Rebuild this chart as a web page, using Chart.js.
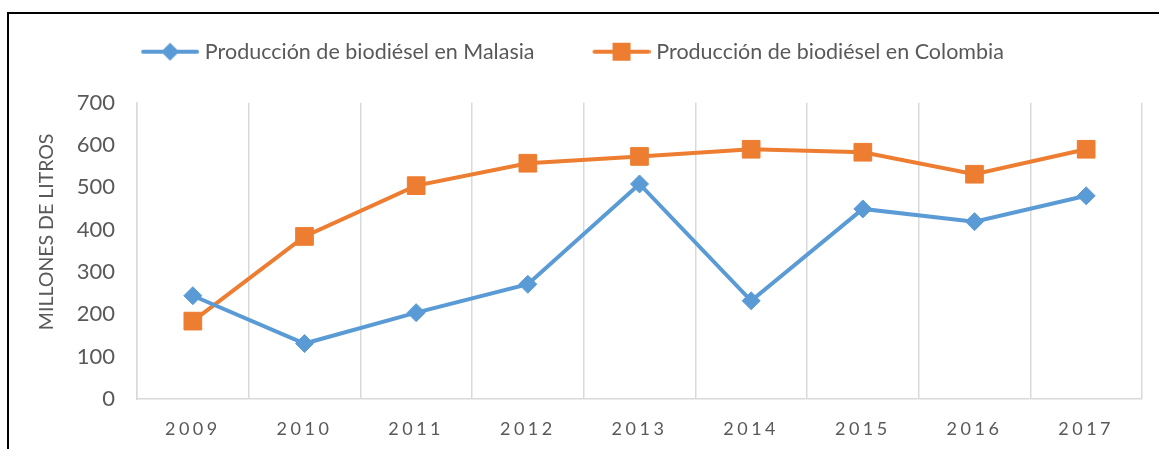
<!DOCTYPE html>
<html>
<head>
<meta charset="utf-8">
<script src="https://cdn.jsdelivr.net/npm/chart.js@4"></script>
<style>
  html, body { margin: 0; padding: 0; background: #fff; overflow: hidden; }
  #wrap { position: relative; width: 1159px; height: 449px; }
  #frame { position: absolute; left: 7px; top: 12px; width: 1300px; height: 600px;
           border-left: 2px solid #000; border-top: 2px solid #000; }
  canvas { position: absolute; left: 0; top: 0; }
</style>
</head>
<body>
<div id="wrap">
  <div id="frame"></div>
  <canvas id="my-line" width="1159" height="449"></canvas>
</div>
<script>
// ================= data =================
const years = ["2009","2010","2011","2012","2013","2014","2015","2016","2017"]
const malasia = [244,131,204,271,508,232,449,419,480]
const colombia = [184,384,504,557,573,590,583,531,590]
const yTicks = [0,100,200,300,400,500,600,700]

const blue = "#5B9BD5"
const orange = "#ED7D31"
const grey = "#595959"

// legend icon: line + marker
function legendIcon(color, shape){
  const c = document.createElement("canvas")
  c.width = 66; c.height = 20
  const g = c.getContext("2d")
  g.strokeStyle = color; g.fillStyle = color
  g.lineWidth = 4; g.lineCap = "round"
  g.beginPath(); g.moveTo(10, 10); g.lineTo(64, 10); g.stroke()
  g.beginPath()
  if(shape === "diamond"){
    g.moveTo(37, 1); g.lineTo(46, 10); g.lineTo(37, 19); g.lineTo(28, 10); g.closePath()
  } else {
    g.rect(28, 1, 18, 18)
  }
  g.fill()
  return c
}
const icons = [legendIcon(blue, "diamond"), legendIcon(orange, "square")]

// x labels with letter spacing, y title nudged up like the original
const axisTweaks = {
  id: "axisTweaks",
  beforeDraw(chart){
    const sx = chart.scales.x
    if(!sx._tweaked){
      const origLabels = sx.drawLabels
      sx.drawLabels = function(area){
        const ctx = this.ctx
        ctx.save()
        ctx.letterSpacing = "3.5px"
        origLabels.call(this, area)
        ctx.restore()
      }
      sx._tweaked = true
    }
    const sy = chart.scales.y
    if(!sy._tweaked){
      const origTitle = sy.drawTitle
      sy.drawTitle = function(){
        const ctx = this.ctx
        ctx.save()
        ctx.translate(0, -19)
        origTitle.call(this)
        ctx.restore()
      }
      sy._tweaked = true
    }
  }
}

const myLine = document.getElementById("my-line").getContext("2d")
let lineChart = new Chart(myLine, {
  type: "line",
  data: {
    labels: years,
    datasets: [{
      label: "Producción de biodiésel en Malasia",
      data: malasia,
      borderColor: blue,
      backgroundColor: blue,
      borderWidth: 4,
      pointStyle: "rectRot",
      pointRadius: 9,
      pointBorderWidth: 1,
      tension: 0
    },{
      label: "Producción de biodiésel en Colombia",
      data: colombia,
      borderColor: orange,
      backgroundColor: orange,
      borderWidth: 4,
      pointStyle: "rect",
      pointRadius: 12.5,
      pointBorderWidth: 1,
      tension: 0
    }]
  },
  options: {
    responsive: false,
    animation: false,
    layout: { padding: { top: -14, right: 17, left: 0, bottom: 0 } },
    plugins: {
      tooltip: { enabled: false },
      legend: {
        position: "top",
        labels: {
          usePointStyle: true,
          pointStyleWidth: 56,
          padding: 55,
          color: grey,
          font: { family: "Lato", size: 21.5 },
          generateLabels(chart){
            const items = Chart.defaults.plugins.legend.labels.generateLabels(chart)
            items.forEach((it, i) => { it.pointStyle = icons[i] })
            return items
          }
        }
      },
      // empty spacer between legend and plot
      title: {
        display: true,
        text: "",
        position: "top",
        weight: 500,
        font: { size: 1 },
        padding: { top: 15, bottom: 14 }
      }
    },
    scales: {
      x: {
        offset: true,
        grid: { display: true, offset: true, color: "#D9D9D9", lineWidth: 1.5, drawTicks: false },
        border: { display: true, color: "#D9D9D9", width: 1.5 },
        ticks: { color: grey, padding: 19, font: { family: "Lato", size: 18 } },
        afterFit(scale){ scale.height = 50 }
      },
      y: {
        min: 0, max: 700,
        afterBuildTicks(scale){ scale.ticks = yTicks.map(v => ({ value: v })) },
        grid: { display: false, drawTicks: false },
        border: { display: true, color: "#D9D9D9", width: 1.5 },
        ticks: { color: grey, padding: 22, font: { family: "Lato", size: 22 } },
        title: {
          display: true,
          text: "MILLONES DE LITROS",
          color: grey,
          font: { family: "Lato", size: 19.5 },
          padding: { top: 35, bottom: 0 }
        },
        afterFit(scale){ scale.width = 137 }
      }
    }
  },
  plugins: [axisTweaks]
})
</script>
</body>
</html>
